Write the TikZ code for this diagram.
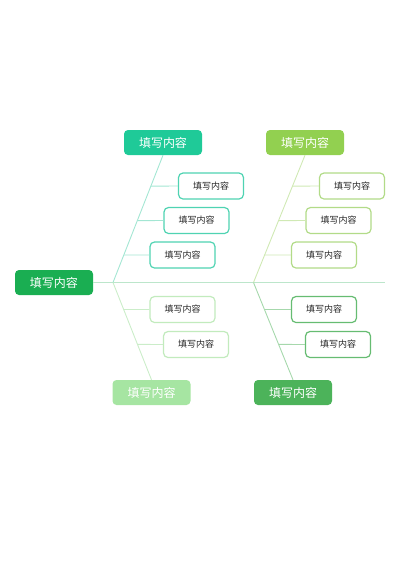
\documentclass[tikz,border=0pt]{standalone}
\usepackage{fontspec}
\setmainfont{Noto Sans CJK SC}
\usetikzlibrary{calc}
\definecolor{cMain}{HTML}{1AAE52}
\definecolor{cTL}{HTML}{1FCA98}
\definecolor{cTR}{HTML}{92D050}
\definecolor{cBL}{HTML}{A6E5A2}
\definecolor{cBR}{HTML}{4CB35A}
\definecolor{bTL}{HTML}{4FD3B2}
\definecolor{bTR}{HTML}{B2DB88}
\definecolor{bBL}{HTML}{C2EBBD}
\definecolor{bBR}{HTML}{66BC72}
\definecolor{lTL}{HTML}{A3E6D3}
\definecolor{lTR}{HTML}{D0E9B4}
\definecolor{lBL}{HTML}{CBEDC9}
\definecolor{lBR}{HTML}{A6D8AC}
\definecolor{lSp}{HTML}{BCE6CB}
\begin{document}
\begin{tikzpicture}[x=1pt,y=-1pt,
  headbox/.style={rectangle,rounded corners=4pt,minimum width=78pt,minimum height=25pt,inner sep=0pt,text=white,font=\fontsize{12}{13}\selectfont},
  subbox/.style={rectangle,rounded corners=4.5pt,draw,line width=1.2pt,fill=white,minimum width=65pt,minimum height=26pt,inner sep=0pt,text=black!85,font=\fontsize{9}{10}\selectfont},
  link/.style={line width=0.9pt}]
\useasboundingbox (0,0) rectangle (400,566);
% nodes
\node[headbox,fill=cMain] (main) at (54,282.5) {填写内容};
\node[headbox,fill=cTL] (hTL) at (163,142.5) {填写内容};
\node[headbox,fill=cTR] (hTR) at (305,142.5) {填写内容};
\node[headbox,fill=cBL] (hBL) at (151.5,392.5) {填写内容};
\node[headbox,fill=cBR] (hBR) at (293,392.5) {填写内容};
\coordinate (jL) at (113,282.5);
\coordinate (jR) at (253.5,282.5);
\coordinate (spEnd) at (385,282.5);
% spine
\draw[link,lSp] (main.east) -- (jL) -- (jR) -- (spEnd);
% diagonals
\draw[link,lTL] (jL) -- (hTL.south);
\draw[link,lTR] (jR) -- (hTR.south);
\draw[link,lBL] (jL) -- (hBL.north);
\draw[link,lBR] (jR) -- (hBR.north);
% branch points
\coordinate (pTL1) at ($(jL)!0.757!(hTL.south)$);
\coordinate (pTL2) at ($(jL)!0.486!(hTL.south)$);
\coordinate (pTL3) at ($(jL)!0.216!(hTL.south)$);
\coordinate (pTR1) at ($(jR)!0.757!(hTR.south)$);
\coordinate (pTR2) at ($(jR)!0.486!(hTR.south)$);
\coordinate (pTR3) at ($(jR)!0.216!(hTR.south)$);
\coordinate (pBL1) at ($(jL)!0.277!(hBL.north)$);
\coordinate (pBL2) at ($(jL)!0.636!(hBL.north)$);
\coordinate (pBR1) at ($(jR)!0.277!(hBR.north)$);
\coordinate (pBR2) at ($(jR)!0.636!(hBR.north)$);
% sub boxes
\node[subbox,draw=bTL] (sTL1) at (211,186) {填写内容};
\node[subbox,draw=bTL] (sTL2) at (196.5,220.5) {填写内容};
\node[subbox,draw=bTL] (sTL3) at (182.5,255) {填写内容};
\node[subbox,draw=bTR] (sTR1) at (352,186) {填写内容};
\node[subbox,draw=bTR] (sTR2) at (338.5,220.5) {填写内容};
\node[subbox,draw=bTR] (sTR3) at (324,255) {填写内容};
\node[subbox,draw=bBL] (sBL1) at (182.5,309.5) {填写内容};
\node[subbox,draw=bBL] (sBL2) at (196,344.5) {填写内容};
\node[subbox,draw=bBR] (sBR1) at (324,309.5) {填写内容};
\node[subbox,draw=bBR] (sBR2) at (338,344.5) {填写内容};
% branches
\draw[link,lTL] (pTL1) -- (sTL1.west);
\draw[link,lTL] (pTL2) -- (sTL2.west);
\draw[link,lTL] (pTL3) -- (sTL3.west);
\draw[link,lTR] (pTR1) -- (sTR1.west);
\draw[link,lTR] (pTR2) -- (sTR2.west);
\draw[link,lTR] (pTR3) -- (sTR3.west);
\draw[link,lBL] (pBL1) -- (sBL1.west);
\draw[link,lBL] (pBL2) -- (sBL2.west);
\draw[link,lBR] (pBR1) -- (sBR1.west);
\draw[link,lBR] (pBR2) -- (sBR2.west);
\end{tikzpicture}
\end{document}
